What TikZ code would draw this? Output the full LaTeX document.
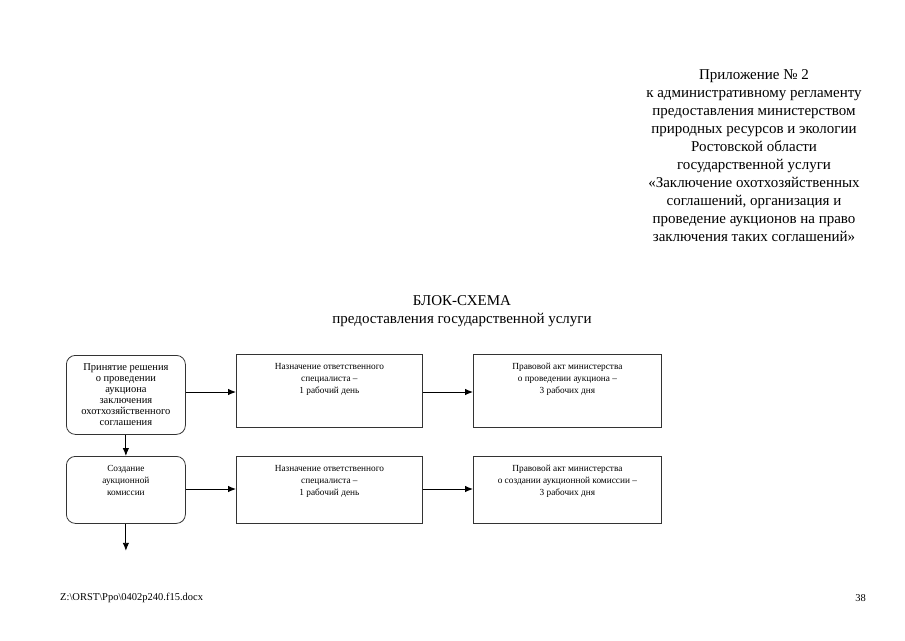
\documentclass[tikz,border=0pt]{standalone}
\usepackage{fontspec}
\setmainfont{Liberation Serif}
\usetikzlibrary{arrows.meta}
\begin{document}
\begin{tikzpicture}[x=1pt,y=-1pt,
  box/.style={draw=black!80, line width=0.8pt, inner sep=0pt, anchor=north west},
  rbox/.style={box, rounded corners=9pt},
  btxt/.style={anchor=north, align=center, inner sep=0pt, font=\fontsize{9.3}{12}\selectfont},
  arr/.style={draw=black, line width=0.9pt, -{Latex[length=8pt,width=6.5pt]}},
  hdr/.style={align=center, inner sep=0pt, font=\fontsize{15}{18}\selectfont}
]
\useasboundingbox (0,0) rectangle (905,640);

% header
\node[hdr, anchor=north] (head) at (754,69) {Приложение № 2\\к административному регламенту\\предоставления министерством\\природных ресурсов и экологии\\Ростовской области\\государственной услуги\\«Заключение охотхозяйственных\\соглашений, организация и\\проведение аукционов на право\\заключения таких соглашений»};

\node[hdr, anchor=north] (title) at (462,295) {БЛОК-СХЕМА\\предоставления государственной услуги};

% row 1
\node[rbox, minimum width=119pt, minimum height=79pt] (b1) at (66,355) {};
\node[box, minimum width=186pt, minimum height=73pt] (b2) at (236,354) {};
\node[box, minimum width=188pt, minimum height=73pt] (b3) at (473,354) {};
\node[btxt, font=\fontsize{10.5}{11}\selectfont] (t1) at ([yshift=-8pt]b1.north) {Принятие решения\\о проведении\\аукциона\\заключения\\охотхозяйственного\\соглашения};
\node[btxt] (t2) at ([yshift=-9pt]b2.north) {Назначение ответственного\\специалиста –\\1 рабочий день};
\node[btxt] (t3) at ([yshift=-9pt]b3.north) {Правовой акт министерства\\о проведении аукциона –\\3 рабочих дня};

% row 2
\node[rbox, minimum width=119pt, minimum height=67pt] (b4) at (66,456) {};
\node[box, minimum width=186pt, minimum height=67pt] (b5) at (236,456) {};
\node[box, minimum width=188pt, minimum height=67pt] (b6) at (473,456) {};
\node[btxt] (t4) at ([yshift=-9.5pt]b4.north) {Создание\\аукционной\\комиссии};
\node[btxt] (t5) at ([yshift=-9pt]b5.north) {Назначение ответственного\\специалиста –\\1 рабочий день};
\node[btxt] (t6) at ([yshift=-9pt]b6.north) {Правовой акт министерства\\о создании аукционной комиссии –\\3 рабочих дня};

\coordinate (end) at ([yshift=-27pt]b4.south);

% connectors
\draw[arr] (b1.east |- 0,392) -- (b2.west |- 0,392);
\draw[arr] (b2.east |- 0,392) -- (b3.west |- 0,392);
\draw[arr] (b1.south) -- (b4.north);
\draw[arr] (b4.east |- 0,489) -- (b5.west |- 0,489);
\draw[arr] (b5.east |- 0,489) -- (b6.west |- 0,489);
\draw[arr] (b4.south) -- (end);

% footer
\node[anchor=west, inner sep=0pt, font=\fontsize{10.5}{12}\selectfont] (foot) at (60,598) {Z:\textbackslash ORST\textbackslash Ppo\textbackslash 0402p240.f15.docx};
\node[anchor=east, inner sep=0pt, font=\fontsize{10.5}{12}\selectfont] (page) at (866,598) {38};
\end{tikzpicture}
\end{document}
